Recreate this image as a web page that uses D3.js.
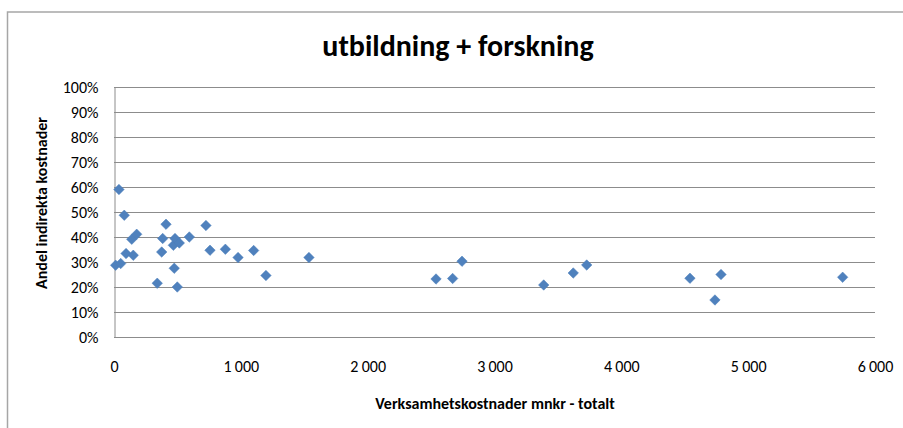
<!DOCTYPE html>
<html>
<head>
<meta charset="utf-8">
<script src="https://cdn.jsdelivr.net/npm/d3@7"></script>
<style>
  html, body { margin: 0; padding: 0; background: #fff; }
  #chart { width: 903px; height: 428px; }
  text { font-family: Carlito, "Open Sans", "Liberation Sans", sans-serif; }
</style>
</head>
<body>
<div id="chart"></div>
<script>
// Chart data
const chartTitle = 'utbildning + forskning';
const xTitle = 'Verksamhetskostnader mnkr - totalt';
const yTitle = 'Andel indirekta kostnader';

// Verksamhetskostnader, mnkr
const kostnad = [
    13, 39, 53, 81, 95, 140, 152, 179, 341, 376,
    384, 410, 468, 475, 481, 499, 515, 594, 725, 757,
    878, 978, 1101, 1198, 1537, 2539, 2670, 2744, 3388, 3621,
    3727, 4541, 4738, 4786, 5745
];
// Andel indirekta kostnader, %
const andel = [
    28.7, 59.0, 29.4, 48.7, 33.4, 39.1, 32.7, 41.1, 21.5, 34.0,
    39.4, 45.1, 36.7, 27.5, 39.4, 20.0, 37.6, 40.0, 44.6, 34.7,
    35.1, 31.8, 34.6, 24.6, 31.8, 23.2, 23.4, 30.3, 20.8, 25.6,
    28.8, 23.5, 14.8, 25.0, 23.9
];

const xTicks = [0, 1000, 2000, 3000, 4000, 5000, 6000];
const yTicks = [0, 10, 20, 30, 40, 50, 60, 70, 80, 90, 100];

const width = 903, height = 428;
const plot = { left: 114, right: 875, top: 87, bottom: 337 };

const svg = d3.select('#chart')
    .append('svg')
    .attr('width', width)
    .attr('height', height);

// Outer chart frame
svg.append('rect')
    .attr('x', 7.5)
    .attr('y', 12)
    .attr('width', 920)
    .attr('height', 440)
    .attr('fill', 'none')
    .attr('stroke', '#a6a6a6')
    .attr('stroke-width', 1.5);

const x = d3.scaleLinear().domain([0, 6000]).range([plot.left, plot.right]);
const y = d3.scaleLinear().domain([0, 100]).range([plot.bottom, plot.top]);

// Gridlines
svg.append('g')
    .selectAll('line')
    .data(yTicks)
    .enter().append('line')
    .attr('x1', plot.left)
    .attr('x2', plot.right)
    .attr('y1', d => Math.round(y(d)) + 0.5)
    .attr('y2', d => Math.round(y(d)) + 0.5)
    .attr('stroke', '#8c8c8c')
    .attr('stroke-width', 1);

// Y axis
const yAxis = d3.axisLeft(y)
    .tickValues(yTicks)
    .tickSize(0)
    .tickPadding(16)
    .tickFormat(d => d + '%');

svg.append('g')
    .attr('transform', `translate(${plot.left + 0.5},0)`)
    .call(yAxis)
    .call(g => g.select('.domain').attr('stroke', '#8c8c8c'))
    .call(g => g.selectAll('text')
        .attr('fill', '#000')
        .style('font-size', '16px'));

// X axis labels
const xAxis = d3.axisBottom(x)
    .tickValues(xTicks)
    .tickSize(0)
    .tickPadding(24)
    .tickFormat(d => d3.format(',')(d).replace(',', '\u2009'));

svg.append('g')
    .attr('transform', `translate(0,${plot.bottom})`)
    .call(xAxis)
    .call(g => g.select('.domain').remove())
    .call(g => g.selectAll('text')
        .attr('fill', '#000')
        .style('font-size', '16px'));

// Markers (diamonds)
const points = kostnad.map((k, i) => ({ k: k, a: andel[i] }));
svg.append('g')
    .selectAll('path')
    .data(points)
    .enter().append('path')
    .attr('d', d3.symbol().type(d3.symbolDiamond2).size(70))
    .attr('transform', d => `translate(${x(d.k)},${y(d.a)})`)
    .attr('fill', '#4f81bd')
    .attr('stroke', '#4a7ebb')
    .attr('stroke-width', 0.5);

// Title
svg.append('text')
    .attr('x', 458)
    .attr('y', 56)
    .attr('text-anchor', 'middle')
    .style('font-size', '30px')
    .style('font-weight', 'bold')
    .text(chartTitle);

// X axis title
svg.append('text')
    .attr('x', 495)
    .attr('y', 409)
    .attr('text-anchor', 'middle')
    .style('font-size', '16px')
    .style('font-weight', 'bold')
    .text(xTitle);

// Y axis title
svg.append('text')
    .attr('transform', 'translate(47,203) rotate(-90)')
    .attr('text-anchor', 'middle')
    .style('font-size', '16px')
    .style('font-weight', 'bold')
    .text(yTitle);
</script>
</body>
</html>
